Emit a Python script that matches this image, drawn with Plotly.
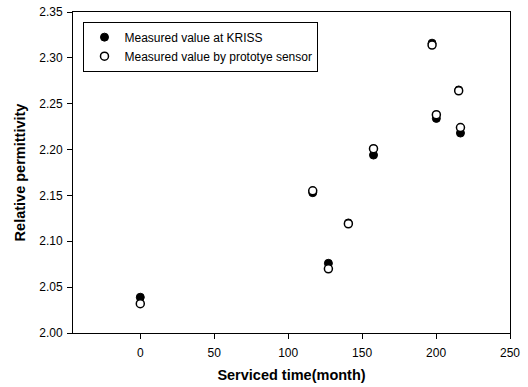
import plotly.graph_objects as go

months = [0, 116.6, 127.2, 140.7, 157.7, 197.3, 200.2, 215.3, 216.5]
kriss = [2.039, 2.153, 2.076, 2.120, 2.194, 2.316, 2.234, 2.265, 2.218]
sensor = [2.032, 2.155, 2.070, 2.119, 2.201, 2.314, 2.238, 2.264, 2.224]

fig = go.Figure()
fig.add_trace(go.Scatter(x=months, y=kriss, mode="markers", name="Measured value at KRISS",
                         marker=dict(symbol="circle", size=8, color="black",
                                     line=dict(color="black", width=1))))
fig.add_trace(go.Scatter(x=months, y=sensor, mode="markers", name="Measured value by prototye sensor",
                         marker=dict(symbol="circle", size=8, color="white",
                                     line=dict(color="black", width=1.5))))

fig.update_layout(
    width=528, height=387,
    margin=dict(l=73, r=18, t=12, b=54, autoexpand=False),
    paper_bgcolor="white", plot_bgcolor="white",
    font=dict(family="Arial, Liberation Sans", size=12, color="black"),
    showlegend=True,
    legend=dict(x=0.024, y=0.97, xanchor="left", yanchor="top",
                bordercolor="black", borderwidth=1, bgcolor="white",
                font=dict(size=12), itemsizing="trace",
                tracegroupgap=0, itemwidth=30),
    xaxis=dict(range=[-45.5, 250], tickvals=[0, 50, 100, 150, 200, 250],
               showgrid=False, zeroline=False, showline=True, linecolor="black",
               linewidth=1, mirror=True, ticks="outside", ticklen=5,
               tickcolor="black", ticklabelstandoff=4,
               title=dict(text="<b>Serviced time(month)</b>", font=dict(size=14.5), standoff=10)),
    yaxis=dict(range=[2.0, 2.35], tickvals=[2.00, 2.05, 2.10, 2.15, 2.20, 2.25, 2.30, 2.35],
               tickformat=".2f",
               showgrid=False, zeroline=False, showline=True, linecolor="black",
               linewidth=1, mirror=True, ticks="outside", ticklen=5,
               tickcolor="black", ticklabelstandoff=2,
               title=dict(text="<b>Relative permittivity</b>", font=dict(size=14.5), standoff=10)),
)

fig.write_html("out.html")
